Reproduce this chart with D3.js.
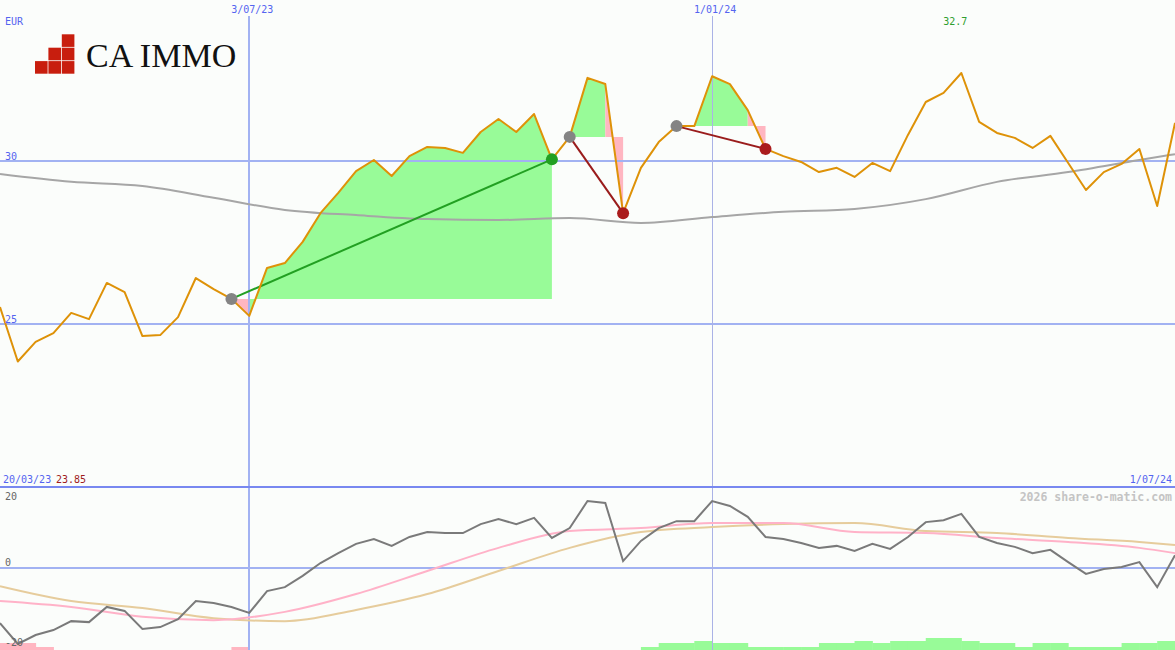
<!DOCTYPE html>
<html><head><meta charset="utf-8">
<script src="https://cdn.jsdelivr.net/npm/d3@7"></script>
<style>html,body{margin:0;padding:0;background:#fbfdfb;overflow:hidden}svg{display:block}</style>
</head><body><svg id="c" width="1175" height="650"></svg>
<script>
// ---------- data (weekly closes, EUR) ----------
const startDate = "2023-03-27";
const endDate = "2024-07-01";
const price = [25.52,23.85,24.45,24.72,25.34,25.15,26.26,25.98,24.63,24.66,25.21,26.41,26.07,25.77,25.25,
  26.72,26.87,27.52,28.40,29.02,29.69,30.03,29.54,30.15,30.43,30.40,30.25,30.89,31.29,30.89,31.44,30.05,
  30.74,32.55,32.36,28.40,29.79,30.58,31.07,31.07,32.60,32.36,31.56,30.37,30.15,29.97,29.66,29.79,29.51,
  29.94,29.69,30.80,31.81,32.09,32.70,31.20,30.86,30.71,30.40,30.77,29.94,29.11,29.66,29.91,30.37,28.62,31.17];
const priceMaWeeks = [0,4,8,12,16,20,24,28,32,36,40,44,48,52,56,60,64,66];
const priceMa = [29.60,29.36,29.23,28.87,28.50,28.34,28.22,28.19,28.25,28.10,28.28,28.44,28.53,28.83,29.36,29.66,30.03,30.21];
const oscLine = [-16.7,-23.0,-20.3,-18.8,-16.1,-16.4,-11.8,-13.0,-18.5,-17.9,-15.5,-10.0,-10.6,-11.8,-13.6,
  -7.0,-5.8,-2.4,1.5,4.5,7.3,8.8,6.7,9.4,10.9,10.6,10.6,13.3,14.8,13.3,15.2,9.1,12.1,20.3,19.7,2.1,8.2,
  12.1,14.2,14.2,20.3,18.8,15.5,9.4,8.8,7.6,6.1,6.7,5.2,7.3,5.8,9.4,13.9,14.5,16.4,9.4,7.6,6.4,4.5,5.5,
  1.8,-1.8,-0.3,0.3,1.8,-5.8,3.9];
const oscMaWeeks = [0,4,8,12,16,20,24,28,32,36,40,44,48,52,56,60,64,66];
const oscFast = [-10.0,-11.8,-14.8,-15.8,-13.3,-7.9,-0.9,6.1,11.2,12.1,13.6,13.6,10.9,10.6,9.1,7.9,6.1,4.5];
const oscSlow = [-5.5,-10.0,-12.1,-15.2,-16.1,-12.7,-7.9,-0.9,6.1,10.9,12.4,13.3,13.6,11.2,10.6,9.1,7.9,7.0];
const signalBars = [-0.7,-0.7,-0.3,0,0,0,0,0,0,0,0,0,0,-0.3,0,0,0,0,0,0,0,0,0,0,0,0,0,0,0,0,0,0,0,0,0,0,
  0.3,0.7,0.7,0.9,0.7,0.7,0.3,0.3,0.3,0.3,0.7,0.7,0.9,0.7,0.9,0.9,1.2,1.2,0.9,0.7,0.7,0.3,0.7,0.7,0.3,0.3,0.3,0.7,0.7,0.9];
const tradeEntries = [13,32,38];
const tradeExits = [31,35,43];
const topTickDates = ["2023-07-03","2024-01-01"];
const topTickLabels = ["3/07/23","1/01/24"];
const priceTicks = [25,30];
const oscTicks = [20,0,-20];

// ---------- setup ----------
const W = 1175, H = 650;
const svg = d3.select("#c");
const parse = d3.utcParse("%Y-%m-%d");
const t0 = parse(startDate), t1 = parse(endDate);
const dates = price.map((_, i) => d3.utcDay.offset(t0, 7 * i));
const x = d3.scaleUtc().domain([t0, t1]).range([0, W]);
const yP = d3.scaleLinear().domain([25, 30]).range([324, 161]);
const yO = d3.scaleLinear().domain([0, 20]).range([568, 502]);
const hB = d3.scaleLinear().domain([0, 1.2]).range([0, 12]);
const mono = "DejaVu Sans Mono, monospace";
const blueTxt = "#5464f0", grid = "#a2b2f2";

svg.append("rect").attr("width", W).attr("height", H).attr("fill", "#fbfdfb");

// ---------- trade fills (runs of same-colour segments) ----------
const gFill = svg.append("g");
tradeEntries.forEach((e, t) => {
  const level = price[e];
  const area = d3.area().x(k => x(dates[k])).y0(yP(level)).y1(k => yP(price[k]));
  let i = e;
  while (i < tradeExits[t]) {
    const up = price[i + 1] >= level;
    let j = i + 1;
    while (j < tradeExits[t] && (price[j + 1] >= level) === up) j++;
    gFill.append("path").attr("d", area(d3.range(i, j + 1)))
      .attr("fill", up ? "#98fb98" : "#ffb6c1");
    i = j;
  }
});

// ---------- bars ----------
svg.append("g").selectAll("rect").data(signalBars).join("rect")
  .attr("x", (d, k) => x(dates[k]))
  .attr("width", (d, k) => x(dates[k + 1]) - x(dates[k]) + 0.5)
  .attr("y", d => H - hB(Math.abs(d)))
  .attr("height", d => hB(Math.abs(d)))
  .attr("fill", d => d < 0 ? "#ffb6c1" : "#98fb98");

// ---------- grid ----------
const gGrid = svg.append("g").attr("shape-rendering", "crispEdges");
priceTicks.forEach(v => gGrid.append("line").attr("x1", 0).attr("x2", W)
  .attr("y1", yP(v)).attr("y2", yP(v)).attr("stroke", grid).attr("stroke-width", 2));
gGrid.append("line").attr("x1", 0).attr("x2", W).attr("y1", yO(0)).attr("y2", yO(0))
  .attr("stroke", grid).attr("stroke-width", 2);
topTickDates.forEach((d, k) => gGrid.append("line")
  .attr("x1", x(parse(d))).attr("x2", x(parse(d))).attr("y1", 16).attr("y2", H)
  .attr("stroke", k === 0 ? grid : "#aab2e6").attr("stroke-width", k === 0 ? 2 : 1));
gGrid.append("line").attr("x1", 0).attr("x2", W).attr("y1", 487).attr("y2", 487)
  .attr("stroke", "#7888f0").attr("stroke-width", 2);

// ---------- price MA ----------
svg.append("path").datum(priceMaWeeks)
  .attr("d", d3.line().x(k => x(dates[k])).y((k, j) => yP(priceMa[j])).curve(d3.curveMonotoneX))
  .attr("fill", "none").attr("stroke", "#a6a6a6").attr("stroke-width", 2);

// ---------- trade lines ----------
tradeEntries.forEach((e, t) => {
  const xx = tradeExits[t];
  const win = price[xx] > price[e];
  svg.append("line").attr("x1", x(dates[e])).attr("y1", yP(price[e]))
    .attr("x2", x(dates[xx])).attr("y2", yP(price[xx]))
    .attr("stroke", win ? "#22a022" : "#9a1c1c").attr("stroke-width", 2);
});

// ---------- price line ----------
svg.append("path").datum(price)
  .attr("d", d3.line().x((d, i) => x(dates[i])).y(d => yP(d)))
  .attr("fill", "none").attr("stroke", "#de9208").attr("stroke-width", 2).attr("stroke-linejoin", "round");

// ---------- trade dots ----------
tradeEntries.forEach((e, t) => {
  const xx = tradeExits[t];
  const win = price[xx] > price[e];
  svg.append("circle").attr("cx", x(dates[e])).attr("cy", yP(price[e])).attr("r", 6).attr("fill", "#848484");
  svg.append("circle").attr("cx", x(dates[xx])).attr("cy", yP(price[xx])).attr("r", 6)
    .attr("fill", win ? "#22a022" : "#aa1c1c");
});

// ---------- oscillator ----------
svg.append("path")
  .attr("d", d3.line().x(k => x(dates[k])).y((k, j) => yO(oscSlow[j])).curve(d3.curveMonotoneX)(oscMaWeeks))
  .attr("fill", "none").attr("stroke", "#e6cc9c").attr("stroke-width", 2);
svg.append("path")
  .attr("d", d3.line().x(k => x(dates[k])).y((k, j) => yO(oscFast[j])).curve(d3.curveMonotoneX)(oscMaWeeks))
  .attr("fill", "none").attr("stroke", "#ffb2c8").attr("stroke-width", 2);
svg.append("path").datum(oscLine)
  .attr("d", d3.line().x((d, i) => x(dates[i])).y(d => yO(d)))
  .attr("fill", "none").attr("stroke", "#7a7a7a").attr("stroke-width", 2);

// ---------- texts ----------
const txt = (s, xx, yy, col, anchor, size, weight) => svg.append("text").text(s)
  .attr("x", xx).attr("y", yy).attr("fill", col).attr("text-anchor", anchor || "start")
  .attr("font-family", mono).attr("font-size", size || 10).attr("font-weight", weight || "normal");

txt("EUR", 5, 25, blueTxt);
topTickDates.forEach((d, k) => txt(topTickLabels[k], x(parse(d)) + 3, 13, blueTxt, "middle"));
priceTicks.forEach(v => txt(String(v), 5, yP(v) - 1, blueTxt));
const iMax = d3.maxIndex(price), iMin = d3.minIndex(price);
txt(d3.format(".1f")(price[iMax]), x(dates[iMax]) - 6, 25, "#2e9e2e", "middle");
txt(d3.utcFormat("%d/%m/%y")(d3.utcDay.offset(t0, -7)), 3, 483, blueTxt);
txt(d3.format(".2f")(price[iMin]), 56, 483, "#a01c1c");
txt("1/07/24", 1172, 483, blueTxt, "end");
txt("2026 share-o-matic.com", 1172, 501, "#c4c4c4", "end", 11.5, "bold");
oscTicks.forEach(v => txt(String(v), 5, v === -20 ? 646 : yO(v) - 2, "#666666"));

// ---------- logo ----------
const logoCells = [[2,0],[1,1],[2,1],[0,2],[1,2],[2,2]];
svg.append("g").selectAll("rect").data(logoCells).join("rect")
  .attr("x", d => 35 + d[0] * 13.4).attr("y", d => 34.3 + d[1] * 13.4)
  .attr("width", 12.6).attr("height", 12.6).attr("fill", "#c81e0e");
svg.append("text").text("CA IMMO").attr("x", 86).attr("y", 67)
  .attr("font-family", "Liberation Serif, Times New Roman, serif").attr("font-size", 34).attr("fill", "#111");
</script></body></html>
